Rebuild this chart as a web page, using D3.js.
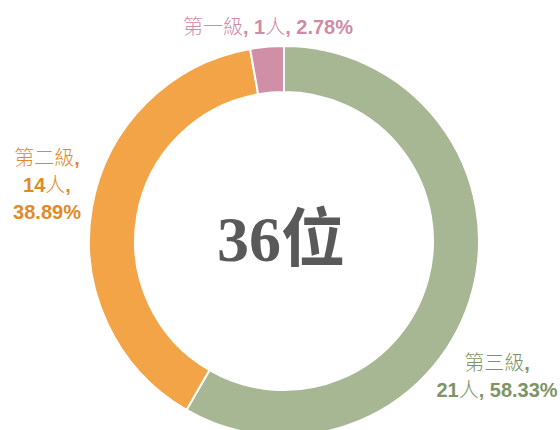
<!DOCTYPE html>
<html>
<head>
<meta charset="utf-8">
<script src="https://cdn.jsdelivr.net/npm/d3@7"></script>
<style>
  body { margin: 0; background: #fff; }
</style>
</head>
<body>
<div id="chart"></div>
<script>
const width = 560;
const height = 430;

// data, clockwise from 12 o'clock
const categories = ['第三級', '第二級', '第一級'];
const counts = [21, 14, 1];
const percents = ['58.33%', '38.89%', '2.78%'];
const totalLabel = '36位';

const colors = ['#a7b693', '#f2a446', '#d08fa7'];
const textColors = ['#7e9466', '#e2892c', '#cf8ca6'];

// label layout: each line is a list of [text, isNumber] pieces
const labelLayout = [
  { x: 497, y: 370, lines: d => [
      [[d.name, false], [',', true]],
      [[d.count, true], ['人', false], [', ' + d.pct, true]]
  ] },
  { x: 47, y: 165, lines: d => [
      [[d.name, false], [',', true]],
      [[d.count, true], ['人', false], [',', true]],
      [[d.pct, true]]
  ] },
  { x: 268, y: 34, lines: d => [
      [[d.name, false], [', ' + d.count, true], ['人', false], [', ' + d.pct, true]]
  ] }
];

const cx = 284, cy = 241;
const outerR = 195, innerR = 149;

const rows = categories.map((name, i) => ({ name, count: counts[i], pct: percents[i], i }));

const svg = d3.select('#chart')
  .append('svg')
  .attr('width', width)
  .attr('height', height)
  .attr('viewBox', [0, 0, width, height]);

const pie = d3.pie()
  .sort(null)
  .value(d => d.count);

const arc = d3.arc()
  .innerRadius(innerR)
  .outerRadius(outerR);

const g = svg.append('g')
  .attr('transform', `translate(${cx},${cy})`);

g.selectAll('path')
  .data(pie(rows))
  .join('path')
    .attr('d', arc)
    .attr('fill', d => colors[d.data.i])
    .attr('stroke', '#fff')
    .attr('stroke-width', 2);

g.append('text')
  .attr('x', -3)
  .attr('y', 20)
  .attr('text-anchor', 'middle')
  .attr('font-family', '"Liberation Serif", "Noto Sans CJK TC", serif')
  .attr('font-weight', 'bold')
  .attr('font-size', 64)
  .attr('fill', '#595959')
  .text(totalLabel);

rows.forEach(d => {
  const lay = labelLayout[d.i];
  const t = svg.append('text')
    .attr('text-anchor', 'middle')
    .attr('font-size', 20)
    .attr('fill', textColors[d.i]);
  lay.lines(d).forEach((pieces, k) => {
    const line = t.append('tspan')
      .attr('x', lay.x)
      .attr('y', lay.y + k * 27);
    pieces.forEach(([txt, isNum]) => {
      line.append('tspan')
        .attr('font-family', isNum
          ? '"Liberation Sans", "Noto Sans CJK TC", sans-serif'
          : '"Noto Sans CJK TC", sans-serif')
        .attr('font-weight', isNum ? 'bold' : 300)
        .text(txt);
    });
  });
});
</script>
</body>
</html>
